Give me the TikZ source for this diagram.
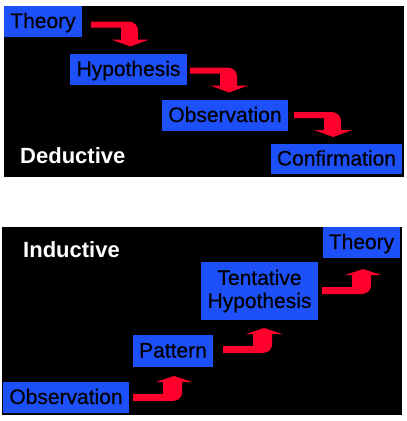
\documentclass[tikz,border=0pt]{standalone}
\usepackage{fontspec}
\setmainfont{Liberation Sans}
\newfontfamily\boxfont{Liberation Sans}[FakeBold=0.5]
\usetikzlibrary{calc}
\definecolor{boxblue}{RGB}{30,80,250}
\definecolor{arrred}{RGB}{255,0,45}
\begin{document}
\begin{tikzpicture}[x=1pt,y=-1pt,
  box/.style={fill=boxblue, inner sep=0pt, font=\boxfont\fontsize{21}{23}\selectfont, text=black},
  one/.style={text height=16pt, text depth=3pt},
  lbl/.style={font=\bfseries\fontsize{22}{24}\selectfont, text=white, anchor=west, inner sep=0pt},
  downarr/.pic={\fill[arrred] (0,-3) -- (37,-3) .. controls (43,-3) and (47,1) .. (47,7) -- (47,15) -- (58,15) -- (39,22) -- (20,15) -- (30,15) -- (30,3) -- (0,3) -- cycle;},
  uparr/.pic={\fill[arrred] (0,-3.5) -- (30,-3.5) -- (30,-15.5) -- (23,-15.5) -- (41,-21.5) -- (59,-15.5) -- (49,-15.5) -- (49,-6) .. controls (49,0) and (45,3.5) .. (39,3.5) -- (0,3.5) -- cycle;}]
\useasboundingbox (0,0) rectangle (407,421);
\fill[white] (0,0) rectangle (407,421);
\fill[black] (4,6) rectangle (404,177);
\fill[black] (2,227) rectangle (402,415);

% Deductive
\node[box,one,minimum width=78pt,minimum height=31pt] (t1) at (43,21.5) {Theory};
\node[box,one,minimum width=117pt,minimum height=31pt] (h1) at (128.5,69.5) {Hypothesis};
\node[box,one,minimum width=126pt,minimum height=31pt] (o1) at (225,115.5) {Observation};
\node[box,one,minimum width=131pt,minimum height=30pt] (c1) at (336.5,159) {Confirmation};
\node[lbl] (ded) at (20,155.5) {Deductive};
\pic at ($(t1.east)+(9,3)$) {downarr};
\pic at ($(h1.east)+(3,1)$) {downarr};
\pic at ($(o1.east)+(6,-0.5)$) {downarr};

% Inductive
\node[box,one,minimum width=77pt,minimum height=31pt] (t2) at (361.5,242.5) {Theory};
\node[box,align=center,minimum width=117pt,minimum height=58pt] (th) at (259.5,291) {Tentative\\Hypothesis};
\node[box,one,minimum width=80pt,minimum height=32pt] (p2) at (173,351) {Pattern};
\node[box,one,minimum width=126pt,minimum height=31pt] (o2) at (66,397.5) {Observation};
\node[lbl] (ind) at (23,249.5) {Inductive};
\pic at ($(o2.east)+(4,0)$) {uparr};
\pic at ($(p2.east)+(10,-1.5)$) {uparr};
\pic at ($(th.east)+(4,-0.5)$) {uparr};
\end{tikzpicture}
\end{document}
